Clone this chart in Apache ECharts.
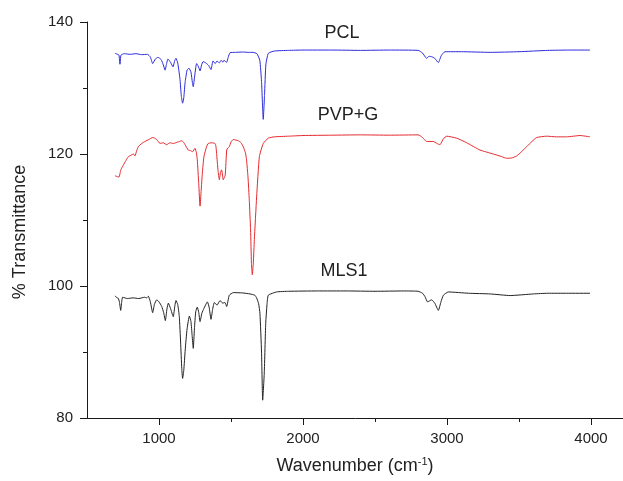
<!DOCTYPE html>
<html>
<head>
<meta charset="utf-8">
<script src="https://cdn.jsdelivr.net/npm/echarts@6/dist/echarts.min.js"></script>
<style>
  html, body { margin: 0; padding: 0; background: #fff; }
  #main { width: 623px; height: 481px; }
</style>
</head>
<body>
<div id="main"></div>
<script>
// FTIR spectra, [wavenumber, % transmittance]
const pcl = [[695,135.25],[712,135.1],[722,135.0],[729,133.6],[736,135.0],[760,135.2],[800,135.1],[840,135.2],[880,135.05],[920,135.1],[940,134.7],[956,133.7],[975,134.4],[993,134.65],[1015,134.3],[1030,133.5],[1042,132.7],[1054,133.8],[1062,134.4],[1080,133.9],[1097,133.2],[1110,134.2],[1118,134.5],[1130,133.8],[1145,131.5],[1155,128.8],[1164,127.7],[1172,128.5],[1182,131],[1195,132.7],[1208,133],[1222,132.4],[1232,130.8],[1238,130.2],[1246,131.5],[1261,133.7],[1273,133.3],[1285,132.6],[1296,133.5],[1306,134],[1325,133.8],[1345,133.4],[1361,132.8],[1375,134.1],[1390,133.7],[1403,134.1],[1418,133.8],[1432,134.2],[1444,133.9],[1451,134.2],[1462,134.0],[1470,133.9],[1480,134.6],[1493,135.35],[1530,135.4],[1580,135.45],[1620,135.4],[1653,135.4],[1680,135.2],[1700,134.2],[1712,131],[1724,125.25],[1733,129],[1742,133.5],[1759,135.25],[1800,135.6],[1900,135.7],[2000,135.75],[2200,135.75],[2400,135.7],[2600,135.75],[2800,135.7],[2830,135.3],[2858,134.5],[2875,134.8],[2893,134.75],[2915,134.5],[2940,133.85],[2960,134.9],[2986,135.5],[3100,135.5],[3300,135.4],[3500,135.5],[3700,135.7],[3850,135.75],[3993,135.75]];

const pvpG = [[694,116.7],[708,116.6],[722,116.5],[735,117.6],[752,118.3],[770,119.0],[787,119.6],[805,119.8],[822,120.0],[833,119.7],[845,120.5],[856,121.1],[880,121.6],[903,121.9],[930,122.2],[956,122.5],[970,122.4],[984,122.2],[1007,121.6],[1030,121.7],[1053,121.4],[1075,121.7],[1099,121.6],[1130,121.8],[1157,122.0],[1170,121.8],[1181,121.4],[1203,120.6],[1220,120.5],[1233,120.35],[1250,120.85],[1260,120.2],[1266,119.1],[1276,115.5],[1285,112.1],[1293,114.5],[1301,117.1],[1312,119.6],[1330,121.1],[1342,121.6],[1365,121.7],[1389,121.6],[1395,121.2],[1400,120.1],[1410,117.5],[1419,116.1],[1427,117.2],[1435,117.6],[1441,116.8],[1446,116.1],[1453,116.4],[1460,116.8],[1470,120.6],[1478,120.9],[1488,121.1],[1500,121.8],[1516,122.2],[1551,122.0],[1570,121.7],[1585,121.1],[1600,120.2],[1608,119.1],[1618,116.5],[1627,113],[1636,108.5],[1642,103.4],[1648,101.7],[1655,103.5],[1662,107],[1678,113.5],[1697,119.6],[1724,121.6],[1759,122.4],[1800,122.6],[1900,122.7],[2000,122.8],[2200,122.85],[2400,122.9],[2600,122.85],[2800,122.9],[2830,122.5],[2858,121.9],[2905,121.9],[2930,121.6],[2951,121.4],[2975,122.3],[2998,122.7],[3067,122.4],[3137,121.7],[3229,120.6],[3322,120.0],[3380,119.6],[3414,119.35],[3450,119.4],[3484,119.7],[3520,120.4],[3553,121.1],[3590,121.9],[3623,122.5],[3692,122.7],[3760,122.6],[3831,122.6],[3924,122.8],[3993,122.6]];

const mls1 = [[694,98.5],[710,98.2],[717,98.15],[725,97.6],[734,96.3],[741,97.6],[747,98.3],[780,98.1],[820,98.2],[860,98.1],[900,98.3],[914,98.2],[926,98.45],[940,97.6],[956,95.95],[968,97.2],[984,97.9],[1000,97.6],[1019,96.9],[1032,96.0],[1044,94.75],[1055,96.5],[1065,97.4],[1080,96.6],[1099,95.35],[1110,97.0],[1118,97.8],[1130,97.2],[1141,95.35],[1150,91.5],[1158,87.5],[1164,86.0],[1172,87.2],[1182,90.3],[1195,93.5],[1211,95.45],[1222,94.6],[1230,92.5],[1238,90.55],[1246,93.5],[1255,96.1],[1266,96.8],[1276,96.0],[1285,94.6],[1298,95.9],[1312,96.6],[1336,97.6],[1348,96.8],[1361,94.95],[1372,96.4],[1384,97.5],[1403,97.1],[1424,97.8],[1442,97.4],[1458,97.5],[1470,96.9],[1488,98.6],[1516,99.0],[1580,98.95],[1632,98.8],[1665,98.6],[1678,98.2],[1692,97.3],[1701,95.85],[1712,90],[1720,82.7],[1731,86.8],[1741,94.3],[1750,97.2],[1759,98.6],[1817,99.1],[1900,99.2],[2100,99.25],[2300,99.25],[2500,99.2],[2700,99.25],[2800,99.2],[2830,98.9],[2847,98.4],[2865,97.6],[2893,97.9],[2915,97.4],[2940,96.3],[2958,97.6],[2975,98.6],[3009,99.1],[3150,98.9],[3300,98.8],[3438,98.55],[3600,98.8],[3700,98.9],[3831,98.9],[3993,98.9]];

const seriesNames = ['PCL', 'PVP+G', 'MLS1'];
const seriesColors = ['#2b2bdc', '#e52a2e', '#222222'];

const chart = echarts.init(document.getElementById('main'), null, { renderer: 'canvas' });
const font = "'Liberation Sans', Arial, sans-serif";
const axisColor = '#1a1a1a';

chart.setOption({
  animation: false,
  backgroundColor: '#fff',
  textStyle: { fontFamily: font },
  // grid 0 holds the data, grid 1 only carries the 1000-step x ticks and labels
  // (both run past the right edge, the original axis is cut off there)
  grid: [
    { left: 87, top: 22, width: 576, bottom: 63, outerBoundsMode: 'none', containLabel: false },
    { left: 159, top: 22, width: 504, bottom: 63, outerBoundsMode: 'none', containLabel: false }
  ],
  xAxis: [
    {
      gridIndex: 0, type: 'value', min: 500, max: 4500,
      axisLine: { lineStyle: { color: axisColor, width: 1 } },
      axisTick: { show: false },
      axisLabel: { show: false },
      splitLine: { show: false }
    },
    {
      gridIndex: 1, type: 'value', min: 1000, max: 4500, interval: 1000,
      axisLine: { show: false },
      axisTick: { length: 7, lineStyle: { color: axisColor } },
      minorTick: { show: true, splitNumber: 2, length: 4, lineStyle: { color: axisColor } },
      axisLabel: {
        fontSize: 15, margin: 13, color: '#222', fontFamily: font, showMaxLabel: false,
        formatter: function (v) { return String(v); }
      },
      splitLine: { show: false }
    }
  ],
  yAxis: [
    {
      gridIndex: 0, type: 'value', min: 80, max: 140, interval: 20,
      axisLine: { show: true, lineStyle: { color: axisColor, width: 1 } },
      axisTick: { show: true, length: 7, lineStyle: { color: axisColor } },
      minorTick: { show: true, splitNumber: 2, length: 4, lineStyle: { color: axisColor } },
      axisLabel: { fontSize: 15, margin: 14, color: '#222', fontFamily: font },
      splitLine: { show: false }
    },
    { gridIndex: 1, type: 'value', min: 80, max: 140, show: false }
  ],
  graphic: [
    {
      type: 'text', x: 20, y: 232, rotation: Math.PI / 2,
      style: { text: '% Transmittance', fontSize: 18, fontFamily: font, fill: '#222',
               textAlign: 'center', textVerticalAlign: 'middle' }
    },
    {
      type: 'text', x: 355, y: 466,
      style: {
        text: 'Wavenumber (cm{sup|-1})', fontSize: 18, fontFamily: font, fill: '#222',
        textAlign: 'center', textVerticalAlign: 'middle',
        rich: { sup: { fontSize: 11, fontFamily: font, fill: '#222', verticalAlign: 'top', padding: [0, 0, 9, 0] } }
      }
    },
    { type: 'text', x: 342, y: 33, style: { text: 'PCL', fontSize: 18, fontFamily: font, fill: '#222', textAlign: 'center', textVerticalAlign: 'middle' } },
    { type: 'text', x: 348, y: 115, style: { text: 'PVP+G', fontSize: 18, fontFamily: font, fill: '#222', textAlign: 'center', textVerticalAlign: 'middle' } },
    { type: 'text', x: 344, y: 271, style: { text: 'MLS1', fontSize: 18, fontFamily: font, fill: '#222', textAlign: 'center', textVerticalAlign: 'middle' } }
  ],
  series: [pcl, pvpG, mls1].map(function (d, i) {
    return {
      name: seriesNames[i],
      type: 'line',
      xAxisIndex: 0,
      yAxisIndex: 0,
      data: d,
      showSymbol: false,
      smooth: 0.15,
      lineStyle: { color: seriesColors[i], width: 1 },
      emphasis: { disabled: true }
    };
  })
});
</script>
</body>
</html>
